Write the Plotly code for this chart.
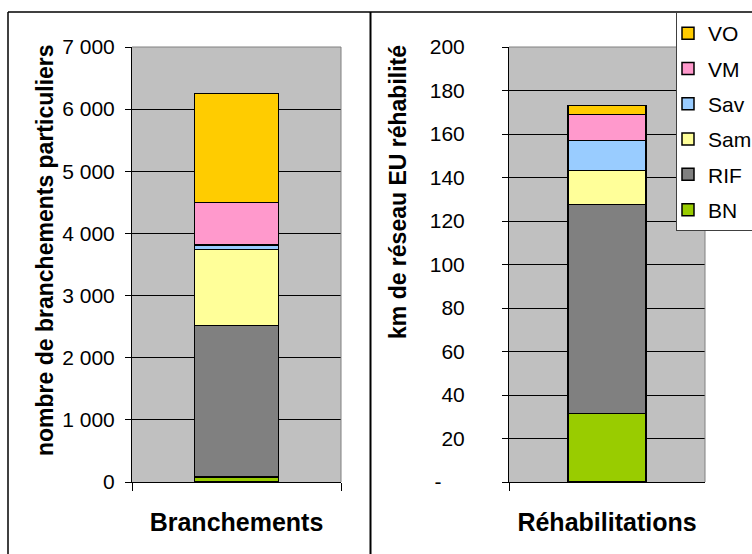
import plotly.graph_objects as go

# Stacked quantities per network sector
series = ["BN", "RIF", "Sam", "Sav", "VM", "VO"]
colors = ["#99CC00", "#808080", "#FFFF99", "#99CCFF", "#FF99CC", "#FFCC00"]

branchements = [80, 2435, 1225, 70, 685, 1755]        # nombre de branchements
rehabilitations = [31.4, 96.3, 15.6, 13.8, 11.9, 4.1]  # km de réseau EU

left_cat = ["Branchements"]
right_cat = ["Réhabilitations"]

left_ticks = [0, 1000, 2000, 3000, 4000, 5000, 6000, 7000]
right_ticks = [0, 20, 40, 60, 80, 100, 120, 140, 160, 180, 200]
right_ticktext = ["-\u2007\u2007"] + [str(v) for v in right_ticks[1:]]

W, H = 752, 554
FONT = "Liberation Sans, Arial, sans-serif"


def px_x(v):
    return v / W


def px_y(v):
    return 1 - v / H


fig = go.Figure()

n = len(series)
for i, (name, col, vl, vr) in enumerate(zip(series, colors, branchements, rehabilitations)):
    fig.add_trace(go.Bar(
        x=left_cat, y=[vl], name=name, legendgroup=name,
        marker=dict(color=col, line=dict(color="black", width=1.5)),
        width=0.4, xaxis="x", yaxis="y", showlegend=False,
    ))
    fig.add_trace(go.Bar(
        x=right_cat, y=[vr], name=name, legendgroup=name, legendrank=n - i,
        marker=dict(color=col, line=dict(color="black", width=1.5)),
        width=0.4, xaxis="x2", yaxis="y2", showlegend=True,
    ))

# plot-area pixel boxes
L_X0, L_X1 = 132, 341
R_X0, R_X1 = 509, 705
Y_TOP, Y_BOT = 47, 482

common_y = dict(
    showgrid=True, gridcolor="black", gridwidth=1,
    ticks="outside", ticklen=6, tickcolor="black",
    showline=True, linecolor="black", linewidth=1,
    zeroline=False, tickfont=dict(family=FONT, size=21, color="black"),
)
common_x = dict(
    type="category", tickson="boundaries", ticks="outside", ticklen=8,
    tickcolor="black", showline=True, linecolor="black", linewidth=1,
    showgrid=False, range=[-0.5, 0.5],
    tickfont=dict(family=FONT, size=25, color="black"),
)

fig.update_layout(
    width=W, height=H,
    margin=dict(l=0, r=0, t=0, b=0, autoexpand=False),
    paper_bgcolor="white",
    plot_bgcolor="#C0C0C0",
    barmode="stack",
    separators=", ",
    font=dict(family=FONT, color="black"),
    xaxis=dict(common_x, domain=[px_x(L_X0), px_x(L_X1)], anchor="y",
               tickvals=left_cat, ticktext=["<b>Branchements</b>"],
               ticklabelstandoff=18),
    yaxis=dict(common_y, domain=[px_y(Y_BOT), px_y(Y_TOP)], anchor="x",
               range=[0, 7000], tickvals=left_ticks, tickformat=",d",
               ticklabelstandoff=6),
    xaxis2=dict(common_x, domain=[px_x(R_X0), px_x(R_X1)], anchor="y2",
                tickvals=right_cat, ticktext=["<b>Réhabilitations</b>"],
                ticklabelstandoff=18),
    yaxis2=dict(common_y, domain=[px_y(Y_BOT), px_y(Y_TOP)], anchor="x2",
                range=[0, 200], tickvals=right_ticks, ticktext=right_ticktext,
                ticklabelstandoff=33),
    legend=dict(
        x=px_x(676), y=px_y(12), xanchor="left", yanchor="top",
        bgcolor="white", bordercolor="#404040", borderwidth=1,
        traceorder="grouped", tracegroupgap=5, indentation=-9,
        font=dict(family=FONT, size=21, color="black"),
        itemwidth=30,
    ),
    annotations=[
        dict(text="<b>nombre de branchements particuliers</b>", textangle=-90,
             xref="paper", yref="paper", x=px_x(30), y=px_y(250),
             showarrow=False, font=dict(family=FONT, size=23, color="black")),
        dict(text="<b>km de réseau EU réhabilité</b>", textangle=-90,
             xref="paper", yref="paper", x=px_x(398), y=px_y(192),
             showarrow=False, font=dict(family=FONT, size=23, color="black")),
    ],
    shapes=[
        # outer chart frames
        dict(type="line", xref="paper", yref="paper", x0=px_x(8), x1=1,
             y0=px_y(12), y1=px_y(12), line=dict(color="black", width=1.5)),
        dict(type="line", xref="paper", yref="paper", x0=px_x(8), x1=px_x(8),
             y0=px_y(12), y1=0, line=dict(color="black", width=1.5)),
        dict(type="line", xref="paper", yref="paper", x0=px_x(370.5), x1=px_x(370.5),
             y0=px_y(12), y1=0, line=dict(color="black", width=2)),
        # grey top/right plot-area edges
        dict(type="line", xref="paper", yref="paper", x0=px_x(L_X0), x1=px_x(L_X1),
             y0=px_y(Y_TOP), y1=px_y(Y_TOP), line=dict(color="#808080", width=1)),
        dict(type="line", xref="paper", yref="paper", x0=px_x(L_X1), x1=px_x(L_X1),
             y0=px_y(Y_TOP), y1=px_y(Y_BOT), line=dict(color="#808080", width=1)),
        dict(type="line", xref="paper", yref="paper", x0=px_x(R_X0), x1=px_x(R_X1),
             y0=px_y(Y_TOP), y1=px_y(Y_TOP), line=dict(color="#808080", width=1)),
        dict(type="line", xref="paper", yref="paper", x0=px_x(R_X1), x1=px_x(R_X1),
             y0=px_y(Y_TOP), y1=px_y(Y_BOT), line=dict(color="#808080", width=1)),
    ],
)

fig.write_html("out.html")
